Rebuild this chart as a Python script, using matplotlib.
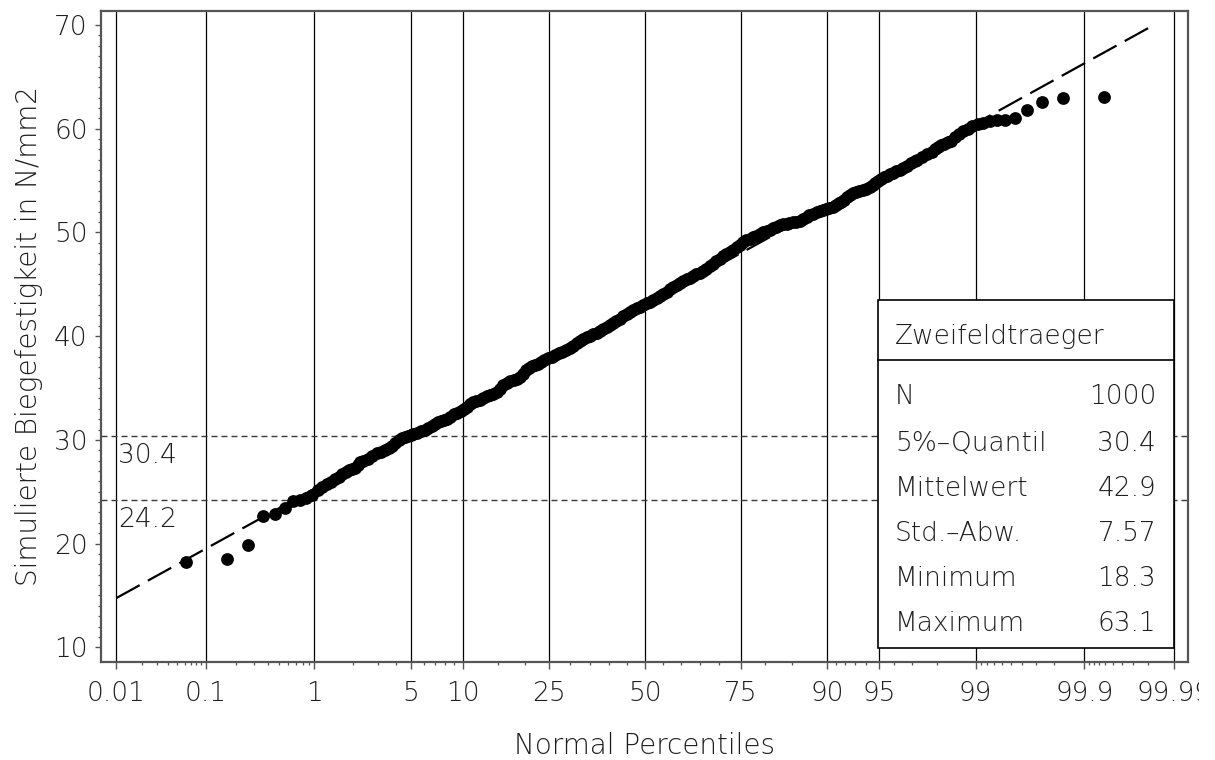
import math
import numpy as np
import matplotlib
matplotlib.use("Agg")
import matplotlib.pyplot as plt
from matplotlib.patches import Rectangle
from matplotlib.lines import Line2D
from matplotlib.scale import FuncScale
from matplotlib.transforms import Bbox
import matplotlib.transforms as mtransforms

# ---------------------------------------------------------------------------
# Simulated bending strength of a two-span beam, 1000 samples (order statistics)
# ---------------------------------------------------------------------------
n_total = 1000

ranks = [
    1, 2, 3, 4, 5, 6, 7, 8, 9, 10, 11, 12, 13, 14, 15, 16, 17, 18, 19, 20,
    21, 22, 23, 24, 26, 28, 30, 32, 34, 36, 38, 40, 42, 44, 46, 48, 50, 52,
    55, 58, 61, 64, 67, 70, 73, 76, 79, 82, 86, 90, 94, 98, 102, 106, 110,
    114, 118, 123, 128, 133, 138, 143, 149, 154, 160, 166, 172, 178, 184,
    190, 196, 202, 208, 214, 220, 226, 232, 240, 248, 256, 264, 272, 280,
    290, 299, 308, 316, 324, 332, 341, 350, 359, 368, 377, 385, 394, 403,
    412, 421, 431, 440, 449, 458, 467, 477, 486, 495, 505, 514, 523, 533,
    542, 551, 561, 570, 580, 589, 598, 607, 616, 625, 634, 642, 651, 660,
    668, 676, 684, 693, 701, 709, 717, 725, 733, 741, 748, 755, 763, 770,
    777, 784, 791, 798, 805, 811, 817, 823, 829, 835, 841, 846, 852, 857,
    863, 868, 873, 877, 882, 887, 891, 895, 899, 903, 908, 911, 914, 917,
    920, 923, 926, 929, 932, 935, 938, 941, 944, 946, 948, 950, 952, 954,
    956, 958, 960, 962, 964, 966, 968, 970, 972, 973, 975, 977, 979, 980,
    981, 982, 983, 984, 985, 986, 987, 988, 989, 990, 991, 992, 993, 994,
    995, 996, 997, 998, 999, 1000,
]

strength = [
    18.25, 18.5, 19.85, 22.7, 22.9, 23.4, 24.1, 24.2, 24.4, 24.7, 25.2, 25.45,
    25.7, 25.95, 26.2, 26.45, 26.7, 26.9, 27.05, 27.15, 27.3, 27.55, 27.9,
    28.0, 28.2, 28.45, 28.7, 28.85, 29.0, 29.2, 29.4, 29.7, 30.0, 30.15,
    30.3, 30.35, 30.45, 30.55, 30.7, 30.85, 31.0, 31.1, 31.3, 31.5, 31.7,
    31.85, 31.95, 32.05, 32.25, 32.45, 32.6, 32.8, 32.95, 33.2, 33.5, 33.65,
    33.75, 33.85, 34.0, 34.2, 34.35, 34.45, 34.6, 34.9, 35.3, 35.5, 35.65,
    35.8, 35.9, 36.1, 36.4, 36.7, 36.9, 37.1, 37.25, 37.35, 37.5, 37.7,
    37.85, 38.0, 38.15, 38.35, 38.5, 38.7, 38.9, 39.1, 39.3, 39.5, 39.7,
    39.9, 40.05, 40.2, 40.35, 40.5, 40.65, 40.85, 41.1, 41.3, 41.5, 41.7,
    41.9, 42.1, 42.3, 42.5, 42.7, 42.85, 43.0, 43.15, 43.3, 43.5, 43.7,
    43.9, 44.1, 44.3, 44.5, 44.7, 44.9, 45.1, 45.3, 45.5, 45.65, 45.8,
    45.95, 46.05, 46.3, 46.5, 46.75, 47.0, 47.2, 47.45, 47.7, 47.95, 48.1,
    48.3, 48.55, 48.8, 49.05, 49.25, 49.4, 49.55, 49.7, 49.85, 50.0, 50.1,
    50.25, 50.4, 50.55, 50.7, 50.8, 50.85, 50.95, 51.0, 51.05, 51.1, 51.3,
    51.5, 51.65, 51.8, 52.0, 52.1, 52.2, 52.3, 52.4, 52.5, 52.65, 52.8,
    52.95, 53.15, 53.4, 53.65, 53.8, 53.9, 54.0, 54.1, 54.2, 54.4, 54.6,
    54.8, 55.0, 55.15, 55.3, 55.45, 55.6, 55.75, 55.9, 56.0, 56.2, 56.45,
    56.7, 56.9, 57.0, 57.3, 57.55, 57.8, 58.0, 58.2, 58.4, 58.55, 58.7,
    58.8, 59.2, 59.5, 59.75, 60.0, 60.3, 60.45, 60.6, 60.7, 60.8, 60.85,
    61.0, 61.8, 62.6, 63.0, 63.1,
]

# summary statistics shown in the table
table_title = "Zweifeldtraeger"
stat_names = ["N", "5%\u2013Quantil", "Mittelwert", "Std.\u2013Abw.", "Minimum", "Maximum"]
stat_values = ["1000", "30.4", "42.9", "7.57", "18.3", "63.1"]

mean_val = 42.9
std_val = 7.57
quantile_5 = 30.4
lower_ref = 24.2

# probability axis
major_pct = [0.01, 0.1, 1, 5, 10, 25, 50, 75, 90, 95, 99, 99.9, 99.99]
major_lbl = ["0.01", "0.1", "1", "5", "10", "25", "50", "75", "90", "95", "99", "99.9", "99.99"]
minor_pct = ([0.02, 0.03, 0.04, 0.05, 0.06, 0.07, 0.08, 0.09,
              0.2, 0.3, 0.4, 0.5, 0.6, 0.7, 0.8, 0.9,
              2, 3, 4, 6, 7, 8, 9, 15, 20, 30, 35, 40, 45,
              55, 60, 65, 70, 80, 85, 91, 92, 93, 94, 96, 97, 98,
              99.1, 99.2, 99.3, 99.4, 99.5, 99.6, 99.7, 99.8,
              99.91, 99.92, 99.93, 99.94, 99.95, 99.96, 99.97, 99.98])
y_major = [10, 20, 30, 40, 50, 60, 70]
y_minor = list(range(10, 71))


# ---------------------------------------------------------------------------
# normal probability scale helpers
# ---------------------------------------------------------------------------
_A = [-3.969683028665376e+01, 2.209460984245205e+02, -2.759285104469687e+02,
      1.383577518672690e+02, -3.066479806614716e+01, 2.506628277459239e+00]
_B = [-5.447609879822406e+01, 1.615858368580409e+02, -1.556989798598866e+02,
      6.680131188771972e+01, -1.328068155288572e+01]
_C = [-7.784894002430293e-03, -3.223964580411365e-01, -2.400758277161838e+00,
      -2.549732539343734e+00, 4.374664141464968e+00, 2.938163982698783e+00]
_D = [7.784695709041462e-03, 3.224671290700398e-01, 2.445134137142996e+00,
      3.754408661907416e+00]


def norm_ppf(p):
    p = np.clip(np.asarray(p, dtype=float), 1e-12, 1 - 1e-12)
    out = np.empty_like(p)
    plow = 0.02425
    lo = p < plow
    hi = p > 1 - plow
    mid = ~(lo | hi)
    if np.any(lo):
        q = np.sqrt(-2 * np.log(p[lo]))
        out[lo] = (((((_C[0]*q+_C[1])*q+_C[2])*q+_C[3])*q+_C[4])*q+_C[5]) / \
                  ((((_D[0]*q+_D[1])*q+_D[2])*q+_D[3])*q+1)
    if np.any(hi):
        q = np.sqrt(-2 * np.log(1 - p[hi]))
        out[hi] = -(((((_C[0]*q+_C[1])*q+_C[2])*q+_C[3])*q+_C[4])*q+_C[5]) / \
                   ((((_D[0]*q+_D[1])*q+_D[2])*q+_D[3])*q+1)
    if np.any(mid):
        q = p[mid] - 0.5
        r = q * q
        out[mid] = (((((_A[0]*r+_A[1])*r+_A[2])*r+_A[3])*r+_A[4])*r+_A[5])*q / \
                   (((((_B[0]*r+_B[1])*r+_B[2])*r+_B[3])*r+_B[4])*r+1)
    return out


_erf = np.vectorize(math.erf)


def norm_cdf(z):
    z = np.asarray(z, dtype=float)
    return 0.5 * (1 + _erf(z / math.sqrt(2)))


def pct_forward(pct):
    return norm_ppf(np.asarray(pct, dtype=float) / 100.0)


def pct_inverse(z):
    return 100.0 * norm_cdf(z)


# ---------------------------------------------------------------------------
# figure
# ---------------------------------------------------------------------------
FONT = ["DejaVu Sans"]
TXT = "#1e1e1e"
FS = 19
FS_LABEL = 20
FW = 200

plt.rcParams["font.family"] = FONT
plt.rcParams["font.weight"] = FW
plt.rcParams["axes.labelweight"] = FW

fig = plt.figure(figsize=(12.15, 7.6), dpi=100)
ax = fig.add_axes([0.0831, 0.1293, 0.8947, 0.8562])
ax.set_xscale(FuncScale(ax.xaxis, (pct_forward, pct_inverse)))

# plotting positions (Blom)
plot_pct = [100.0 * (r - 0.375) / (n_total + 0.25) for r in ranks]

# grid and reference lines
ax.set_axisbelow(True)
ax.grid(True, axis="x", which="major", color="black", lw=0.9)

for ref in (quantile_5, lower_ref):
    ax.axhline(ref, color="#3a3a3a", lw=1.0, ls=(0, (4.3, 2.9)), zorder=1.5)
    ax.annotate(f"{ref:.1f}", xy=(0, ref),
                xycoords=mtransforms.blended_transform_factory(ax.transAxes, ax.transData),
                xytext=(12, -14), textcoords="offset points",
                ha="left", va="center", fontsize=FS, color=TXT, fontweight=FW, zorder=2)

# fitted normal line, drawn up to the top of the value range
z_end = (70 - mean_val) / std_val
fit_pct = np.array([0.01, float(pct_inverse(z_end))])
fit_val = mean_val + std_val * pct_forward(fit_pct)
ax.plot(fit_pct, fit_val, color="black", lw=1.6, ls=(0, (12, 4.2)), zorder=2.5)

# sample points
ax.plot(plot_pct, strength, "o", ms=9.2, color="black", mec="black", mew=0, zorder=3)

# axes limits and ticks
ax.set_xlim(0.00648, 99.99335)
ax.set_ylim(8.61, 71.35)
ax.set_xticks(major_pct)
ax.set_xticklabels(major_lbl)
ax.set_xticks(minor_pct, minor=True)
ax.set_yticks(y_major)
ax.set_yticks(y_minor, minor=True)

ax.tick_params(axis="both", which="major", direction="out", width=1.0,
               color="#555555", labelsize=FS, labelcolor=TXT)
ax.tick_params(axis="x", which="major", length=5, pad=9)
ax.tick_params(axis="y", which="major", length=4.5, pad=5)
ax.tick_params(axis="both", which="minor", direction="out", width=0.9,
               color="#555555", length=2.5)
for lab in ax.get_xticklabels() + ax.get_yticklabels():
    lab.set_fontweight(FW)

# the outermost tick label runs past the drawing area on the right
edge_clip = Bbox.from_extents(0, 0, 1199, 760)
last_lbl = ax.get_xticklabels()[-1]
last_lbl.set_clip_box(edge_clip)
last_lbl.set_clip_on(True)

for sp in ax.spines.values():
    sp.set_color("#555555")
    sp.set_linewidth(1.6)

ax.set_xlabel("Normal Percentiles", fontsize=FS_LABEL, color=TXT, fontweight=FW)
ax.set_ylabel("Simulierte Biegefestigkeit in N/mm2", fontsize=FS_LABEL, color=TXT, fontweight=FW)
ax.xaxis.set_label_coords(0.5, -0.108)
ax.yaxis.set_label_coords(-0.053, 0.5)

# statistics table
bx0, bx1, by0, by1, bsep = 0.7151, 0.9871, 0.0215, 0.5559, 0.4637
ax.add_patch(Rectangle((bx0, by0), bx1 - bx0, by1 - by0, transform=ax.transAxes,
                       facecolor="white", edgecolor="black", lw=1.2, zorder=4))
ax.add_line(Line2D([bx0, bx1], [bsep, bsep], transform=ax.transAxes,
                   color="black", lw=1.2, zorder=5))
ax.text(0.7305, 0.4995, table_title, transform=ax.transAxes, ha="left", va="center",
        fontsize=FS, color=TXT, fontweight=FW, zorder=6)
row_y = [0.4073, 0.3357, 0.2665, 0.1973, 0.1282, 0.0590]
for yy, name, val in zip(row_y, stat_names, stat_values):
    ax.text(0.7305, yy, name, transform=ax.transAxes, ha="left", va="center",
            fontsize=FS, color=TXT, fontweight=FW, zorder=6)
    ax.text(0.9706, yy, val, transform=ax.transAxes, ha="right", va="center",
            fontsize=FS, color=TXT, fontweight=FW, zorder=6)

fig.savefig("out.png", dpi=100)
